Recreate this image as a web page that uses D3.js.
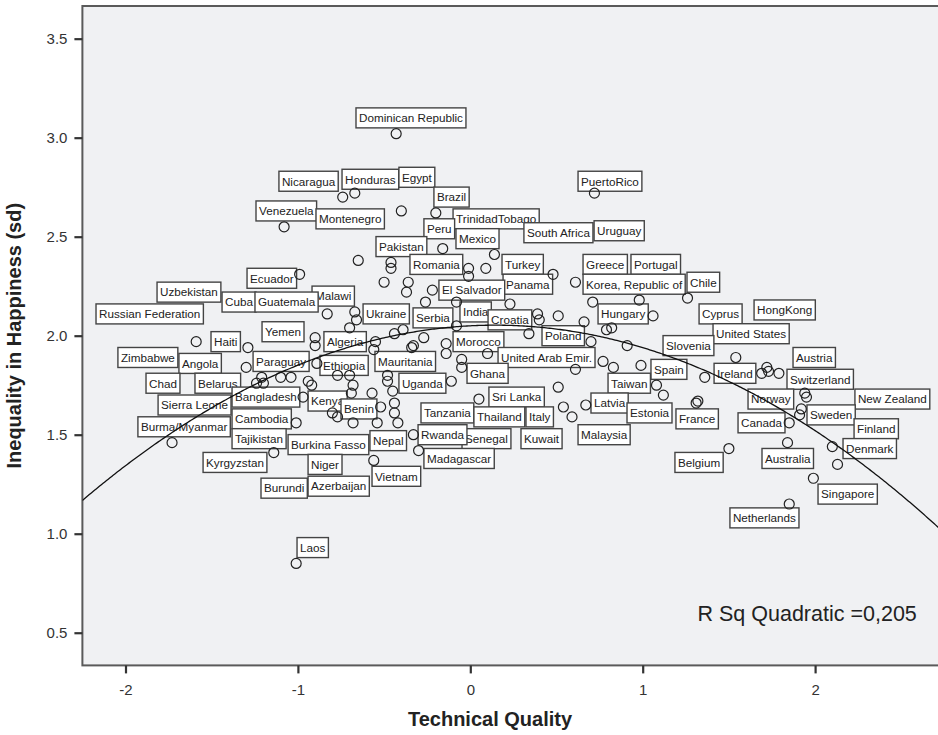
<!DOCTYPE html>
<html><head><meta charset="utf-8">
<script src="https://cdn.jsdelivr.net/npm/d3@7"></script>
<style>
body{margin:0;background:#fff}
svg{display:block}
text{font-family:"Liberation Sans",Arial,Helvetica,sans-serif}
</style>
</head><body>
<svg id="chart" width="938" height="735"></svg>
<script>
// ---- data ----
const techQuality = [
-0.43,-0.74,-0.67,-0.40,-0.20,0.72,-1.08,-0.16,0.14,-0.01,-0.01,0.09,0.48,0.61,-0.65,-0.46,-0.46,-0.50,-0.99,-0.36,
-0.37,-0.22,-0.26,-0.08,0.23,0.39,0.40,0.51,0.66,0.71,0.98,1.06,0.79,0.82,0.91,1.26,-0.44,-0.39,-0.27,-0.33,
-0.34,-0.14,-0.14,0.10,-0.08,0.34,0.70,0.77,0.83,0.99,0.61,-0.05,-0.05,-0.48,-0.48,-0.11,-0.45,0.51,1.08,1.12,
1.31,0.05,-0.44,-0.44,-0.42,0.54,0.59,0.67,-0.33,-0.30,-0.83,-0.67,-0.66,-0.70,-0.90,-0.90,-0.55,-0.56,-0.89,-1.59,
-1.29,-1.30,-1.24,-1.21,-1.20,-1.10,-1.04,-0.94,-0.92,-0.97,-0.77,-0.70,-0.68,-0.69,-0.57,-0.80,-0.77,-0.68,-0.52,-0.54,
-1.01,-1.73,-1.14,-0.56,-1.01,1.54,1.36,1.32,1.50,1.72,1.73,1.69,1.79,1.94,1.95,1.92,1.91,1.85,1.84,2.10,
2.13,1.99,1.85];
const happinessSd = [
3.02,2.70,2.72,2.63,2.62,2.72,2.55,2.44,2.41,2.34,2.30,2.34,2.31,2.27,2.38,2.37,2.34,2.27,2.31,2.27,
2.22,2.23,2.17,2.17,2.16,2.11,2.08,2.10,2.07,2.17,2.18,2.10,2.03,2.04,1.95,2.19,2.01,2.03,1.99,1.95,
1.94,1.96,1.91,1.91,2.05,2.01,1.97,1.87,1.84,1.85,1.83,1.88,1.84,1.80,1.77,1.77,1.72,1.74,1.75,1.70,
1.66,1.68,1.66,1.61,1.56,1.64,1.59,1.65,1.50,1.42,2.11,2.12,2.08,2.04,1.99,1.95,1.97,1.93,1.86,1.97,
1.94,1.84,1.76,1.79,1.76,1.79,1.79,1.77,1.75,1.69,1.80,1.80,1.75,1.71,1.71,1.61,1.59,1.56,1.64,1.56,
1.56,1.46,1.41,1.37,0.85,1.89,1.79,1.67,1.43,1.84,1.82,1.81,1.81,1.71,1.69,1.63,1.60,1.56,1.46,1.44,
1.35,1.28,1.15];

const labelNames = ["Dominican Republic","Nicaragua","Honduras","Egypt","Brazil","PuertoRico","Venezuela","Montenegro",
"TrinidadTobago","Peru","Mexico","South Africa","Uruguay","Pakistan","Romania","Turkey","Greece","Portugal","Ecuador",
"Panama","El Salvador","Korea, Republic of","Chile","Uzbekistan","Malawi","Cuba","Guatemala","Russian Federation",
"Ukraine","India","Serbia","Croatia","Hungary","Cyprus","HongKong","Yemen","United States","Poland","Haiti","Algeria",
"Morocco","Slovenia","Zimbabwe","United Arab Emir.","Austria","Paraguay","Angola","Mauritania","Ethiopia","Spain",
"Ghana","Ireland","Switzerland","Chad","Belarus","Uganda","Taiwan","Bangladesh","Sri Lanka","Norway","New Zealand",
"Kenya","Latvia","Sierra Leone","Benin","Estonia","Tanzania","Sweden","Italy","Thailand","France","Cambodia","Canada",
"Burma/Myanmar","Finland","Senegal","Rwanda","Malaysia","Kuwait","Tajikistan","Nepal","Burkina Fasso","Denmark",
"Madagascar","Australia","Kyrgyzstan","Belgium","Niger","Vietnam","Azerbaijan","Burundi","Singapore","Netherlands","Laos"];
const labelX = [-0.663,-1.110,-0.744,-0.414,-0.211,0.625,-1.243,-0.895,
-0.100,-0.269,-0.083,0.311,0.718,-0.547,-0.350,0.184,0.654,0.932,-1.295,
0.190,-0.182,0.654,1.257,-1.817,-0.918,-1.440,-1.249,-2.171,
-0.622,-0.060,-0.332,0.103,0.741,1.327,1.646,-1.208,1.408,0.416,-1.504,-0.849,
-0.100,1.118,-2.044,0.161,1.872,-1.260,-1.690,-0.553,-0.872,1.048,
-0.019,1.414,1.837,-1.881,-1.597,-0.414,0.799,-1.382,0.108,1.611,2.231,
-0.941,0.700,-1.811,-0.750,0.909,-0.286,1.953,0.323,0.021,1.193,-1.382,1.553,
-1.928,2.226,-0.048,-0.303,0.625,0.294,-1.382,-0.582,-1.057,2.162,
-0.269,1.692,-1.550,1.187,-0.941,-0.570,-0.941,-1.214,2.017,1.506,-1.005];
const labelY = [3.10,2.78,2.79,2.80,2.70,2.78,2.63,2.59,
2.59,2.54,2.49,2.52,2.53,2.45,2.36,2.36,2.36,2.36,2.29,
2.26,2.23,2.26,2.27,2.22,2.20,2.17,2.17,2.11,
2.11,2.12,2.09,2.08,2.11,2.11,2.13,2.02,2.01,2.00,1.97,1.97,
1.97,1.95,1.89,1.89,1.89,1.87,1.86,1.87,1.85,1.83,
1.81,1.81,1.78,1.76,1.76,1.76,1.76,1.69,1.69,1.68,1.68,
1.67,1.66,1.65,1.63,1.61,1.61,1.60,1.59,1.59,1.58,1.58,1.56,
1.54,1.53,1.48,1.50,1.50,1.48,1.48,1.47,1.45,1.43,
1.38,1.38,1.36,1.36,1.35,1.29,1.24,1.23,1.20,1.08,0.93];

const yTickValues = [0.5,1.0,1.5,2.0,2.5,3.0,3.5];
const xTickValues = [-2,-1,0,1,2];
const fitCoefficients = [2.050, 0.0443, -0.1545]; // quadratic fit: a + b*x + c*x^2
const fitLabel = "R Sq Quadratic =0,205";
const xTitle = "Technical Quality";
const yTitle = "Inequality in Happiness (sd)";

// ---- drawing ----
const svg = d3.select("#chart");
const plot = {left:82.4, right:944.4, top:6, bottom:665.4};
const x = d3.scaleLinear().domain([-2.25, 2.75]).range([plot.left, plot.right]);
const y = d3.scaleLinear().domain([0.335, 3.665]).range([plot.bottom, plot.top]);

svg.append("defs").append("clipPath").attr("id","clip")
  .append("rect").attr("x",plot.left).attr("y",plot.top)
  .attr("width",plot.right-plot.left).attr("height",plot.bottom-plot.top);

svg.append("rect").attr("x",plot.left).attr("y",plot.top)
  .attr("width",plot.right-plot.left).attr("height",plot.bottom-plot.top)
  .attr("fill","#f0f1f3").attr("stroke","#5a5a5a").attr("stroke-width",2);

const g = svg.append("g").attr("clip-path","url(#clip)");

// labels
const lab = g.append("g");
labelNames.forEach((name,i)=>{
  const gx = x(labelX[i]), gy = y(labelY[i]);
  const lg = lab.append("g");
  const r = lg.append("rect").attr("x",gx).attr("y",gy-10).attr("height",20)
    .attr("fill","#fff").attr("stroke","#444").attr("stroke-width",1.4);
  const t = lg.append("text").attr("x",gx+3).attr("y",gy+4.3)
    .attr("font-size","11.7px").attr("fill","#222").text(name);
  const w = t.node().getComputedTextLength();
  r.attr("width", w+6);
});

// points
g.append("g").selectAll("circle").data(techQuality).join("circle")
  .attr("cx",(d)=>x(d)).attr("cy",(d,i)=>y(happinessSd[i])).attr("r",5)
  .attr("fill","none").attr("stroke","#222").attr("stroke-width",1.2);

// fit curve
const xs = d3.range(-2.25, 2.751, 0.01);
const line = d3.line().x(d=>x(d)).y(d=>y(fitCoefficients[0]+fitCoefficients[1]*d+fitCoefficients[2]*d*d));
g.append("path").datum(xs).attr("d",line).attr("fill","none").attr("stroke","#111").attr("stroke-width",1.3);

g.append("text").attr("x",x(2.59)).attr("y",y(0.557)).attr("text-anchor","end")
  .attr("font-size","21.5px").attr("fill","#222").text(fitLabel);

// axes
const yAxis = svg.append("g").attr("transform",`translate(${plot.left},0)`)
  .call(d3.axisLeft(y).tickValues(yTickValues).tickFormat(d3.format(".1f")).tickSize(8).tickPadding(7));
const xAxis = svg.append("g").attr("transform",`translate(0,${plot.bottom})`)
  .call(d3.axisBottom(x).tickValues(xTickValues).tickFormat(d3.format("d")).tickSize(8).tickPadding(11));
[yAxis,xAxis].forEach(a=>{
  a.select(".domain").remove();
  a.selectAll(".tick line").attr("stroke","#333").attr("stroke-width",2.2);
  a.selectAll(".tick text").attr("font-size","15px").attr("fill","#333")
    .attr("font-family",'"Liberation Sans",Arial,sans-serif');
});
xAxis.selectAll(".tick text").text(d=>d<0?"-"+Math.abs(d):d);

svg.append("text").attr("x",490).attr("y",726).attr("text-anchor","middle")
  .attr("font-size","20px").attr("font-weight","bold").attr("fill","#222").text(xTitle);
svg.append("text").attr("transform",`translate(21,${(plot.top+plot.bottom)/2}) rotate(-90)`)
  .attr("text-anchor","middle").attr("font-size","20px").attr("font-weight","bold").attr("fill","#222").text(yTitle);
</script>
</body></html>
